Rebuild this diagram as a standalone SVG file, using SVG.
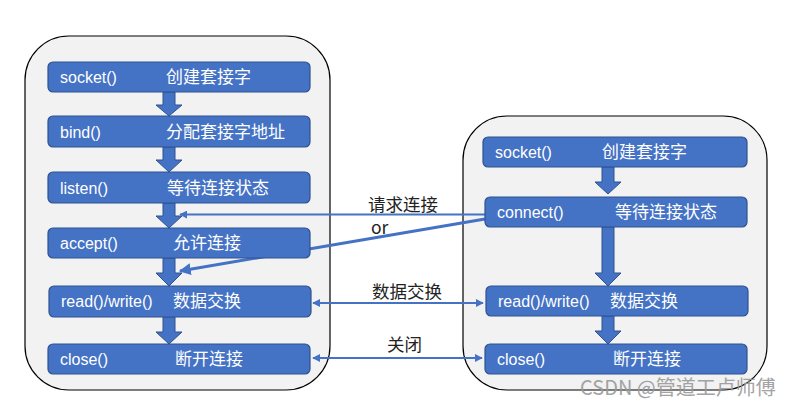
<svg xmlns="http://www.w3.org/2000/svg" width="787" height="409" viewBox="0 0 787 409">
<defs>
<style>
.cont{fill:#F2F2F2;stroke:#000;stroke-width:1.2}
.box{fill:#4472C4;stroke:#2F528F;stroke-width:1.2}
.barr{fill:#4472C4;stroke:#2F528F;stroke-width:1}
.t{fill:#fff;font-family:"Liberation Sans","Noto Sans CJK SC",sans-serif;font-size:16px}
.c{fill:#fff;font-family:"Noto Sans CJK SC",sans-serif;font-size:17px}
.lbl{fill:#222;font-family:"Noto Sans CJK SC","Liberation Sans",sans-serif;font-size:17.5px}
.ln{stroke:#4472C4;fill:none}
</style>
<marker id="ah" viewBox="0 0 10 10" refX="9" refY="5" markerWidth="4" markerHeight="4" orient="auto-start-reverse">
<path d="M0,0 L10,5 L0,10 z" fill="#4472C4"/>
</marker>
</defs>
<rect width="787" height="409" fill="#fff"/>
<g id="client-container"><rect class="cont" x="463" y="116" width="304" height="274" rx="44"/></g>
<g id="server-container"><rect class="cont" x="25" y="36" width="305" height="354" rx="44"/></g>

<g id="arrows-blocks">
<path class="barr" d="M163,92 h12 v13 h7 l-13,11 l-13,-11 h7 z"/>
<path class="barr" d="M163,147 h12 v13 h7 l-13,12 l-13,-12 h7 z"/>
<path class="barr" d="M163,203 h12 v13 h7 l-13,12 l-13,-12 h7 z"/>
<path class="barr" d="M163,258 h12 v15 h7 l-13,13 l-13,-13 h7 z"/>
<path class="barr" d="M163,317 h12 v15 h7 l-13,12 l-13,-12 h7 z"/>
<path class="barr" d="M602,167 h12 v15 h7 l-13,12 l-13,-12 h7 z"/>
<path class="barr" d="M602,227 h12 v46 h7 l-13,13 l-13,-13 h7 z"/>
<path class="barr" d="M602,316 h12 v15 h7 l-13,13 l-13,-13 h7 z"/>
</g>

<g id="connectors">
<line class="ln" x1="485" y1="214.5" x2="180" y2="214.5" stroke-width="2" marker-end="url(#ah)"/>
<line class="ln" x1="485" y1="219" x2="180" y2="271" stroke-width="3" marker-end="url(#ah)"/>
<line class="ln" x1="313" y1="303" x2="483" y2="303" stroke-width="2" marker-start="url(#ah)" marker-end="url(#ah)"/>
<line class="ln" x1="313" y1="358" x2="482" y2="358" stroke-width="2" marker-start="url(#ah)" marker-end="url(#ah)"/>
<text class="lbl" x="368" y="211">请求连接</text>
<text class="lbl" x="371" y="234">or</text>
<text class="lbl" x="372" y="298">数据交换</text>
<text class="lbl" x="387" y="351">关闭</text>
</g>

<g id="s-socket"><rect class="box" x="48" y="62" width="262" height="30" rx="5"/><text class="t" x="60" y="83">socket()</text><text class="c" x="166" y="83">创建套接字</text></g>
<g id="s-bind"><rect class="box" x="48" y="116" width="262" height="31" rx="5"/><text class="t" x="60" y="138">bind()</text><text class="c" x="166" y="138">分配套接字地址</text></g>
<g id="s-listen"><rect class="box" x="48" y="172" width="262" height="31" rx="5"/><text class="t" x="60" y="194">listen()</text><text class="c" x="167" y="194">等待连接状态</text></g>
<g id="s-accept"><rect class="box" x="48" y="228" width="262" height="30" rx="5"/><text class="t" x="60" y="249">accept()</text><text class="c" x="173" y="249">允许连接</text></g>
<g id="s-rw"><rect class="box" x="49" y="286" width="262" height="31" rx="5"/><text class="t" x="61" y="307">read()/write()</text><text class="c" x="173" y="307">数据交换</text></g>
<g id="s-close"><rect class="box" x="48" y="344" width="262" height="30" rx="5"/><text class="t" x="60" y="365">close()</text><text class="c" x="175" y="365">断开连接</text></g>

<g id="c-socket"><rect class="box" x="483" y="137" width="264" height="30" rx="5"/><text class="t" x="495" y="158">socket()</text><text class="c" x="602" y="158">创建套接字</text></g>
<g id="c-connect"><rect class="box" x="485" y="197" width="262" height="30" rx="5"/><text class="t" x="497" y="218">connect()</text><text class="c" x="615" y="218">等待连接状态</text></g>
<g id="c-rw"><rect class="box" x="486" y="286" width="262" height="30" rx="5"/><text class="t" x="498" y="307">read()/write()</text><text class="c" x="610" y="307">数据交换</text></g>
<g id="c-close"><rect class="box" x="485" y="344" width="262" height="30" rx="5"/><text class="t" x="497" y="365">close()</text><text class="c" x="613" y="365">断开连接</text></g>

<text x="580" y="395" fill="#9a9a9a" font-family="Noto Sans CJK SC,sans-serif" font-size="20" opacity="0.9">CSDN @管道工卢师傅</text>
</svg>
